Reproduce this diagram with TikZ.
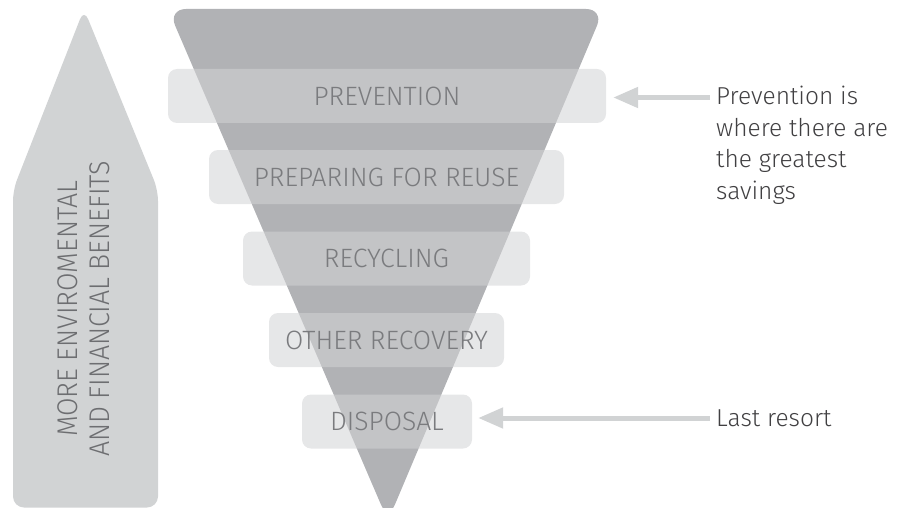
\documentclass[tikz,border=0pt]{standalone}
\usepackage{fontspec}
\setmainfont{Fira Sans Light}
\newfontfamily\condfont[FakeStretch=0.94]{Fira Sans Light}
\usetikzlibrary{arrows.meta}
\definecolor{funnelc}{HTML}{B1B2B5}
\definecolor{boxc}{HTML}{D2D3D5}
\definecolor{arrowc}{HTML}{D1D3D4}
\definecolor{lblc}{HTML}{7A7B7E}
\definecolor{sidec}{HTML}{6D6E71}
\definecolor{notec}{HTML}{414042}
\tikzset{
  stage/.style={fill=boxc, fill opacity=0.55, text opacity=1, rounded corners=9pt,
    minimum height=54pt, inner sep=0pt, text=lblc,
    font=\fontsize{26.5}{30}\selectfont},
  note/.style={text=notec, inner sep=0pt, align=left,
    font=\fontsize{24.5}{31.5}\selectfont},
  conn/.style={draw=arrowc, line width=5pt,
    -{Triangle[length=25pt,width=20pt]}},
}
\begin{document}
\begin{tikzpicture}[x=1pt,y=-1pt]
\useasboundingbox (0,0) rectangle (904,508);
% left up-arrow
\fill[arrowc, rounded corners=11pt] (85,507.5) -- (13,507.5) -- (13,190) -- (84,9) -- (158,190) -- (158,507.5) -- cycle;
\node[rotate=90, align=center, text=sidec, inner sep=0pt,
  font=\condfont\fontsize{28.5}{32}\selectfont] (side) at (84,309)
  {MORE ENVIROMENTAL\\AND FINANCIAL BENEFITS};
% funnel
\fill[funnelc, rounded corners=18pt] (386,9) -- (604,9) -- (388,521) -- (168,9) -- cycle;
% stages
\node[stage, minimum width=438pt] (p1) at (387,96) {PREVENTION};
\node[stage, minimum width=355pt] (p2) at (386.5,177) {PREPARING FOR REUSE};
\node[stage, minimum width=287pt] (p3) at (386.5,258.5) {RECYCLING};
\node[stage, minimum width=235pt] (p4) at (386.5,340) {OTHER RECOVERY};
\node[stage, minimum width=170pt] (p5) at (387,421.5) {DISPOSAL};
% notes
\node[note, anchor=north west] (t1) at (716,86) {Prevention is\\where there are\\the greatest\\savings};
\node[note, anchor=west] (t2) at (716,418) {Last resort};
\coordinate (a1) at (710,97.5);
\coordinate (a2) at (710,418);
\draw[conn, shorten >=7pt] (a1) -- (a1 -| p1.east);
\draw[conn, shorten >=6pt] (a2) -- (a2 -| p5.east);
\end{tikzpicture}
\end{document}
